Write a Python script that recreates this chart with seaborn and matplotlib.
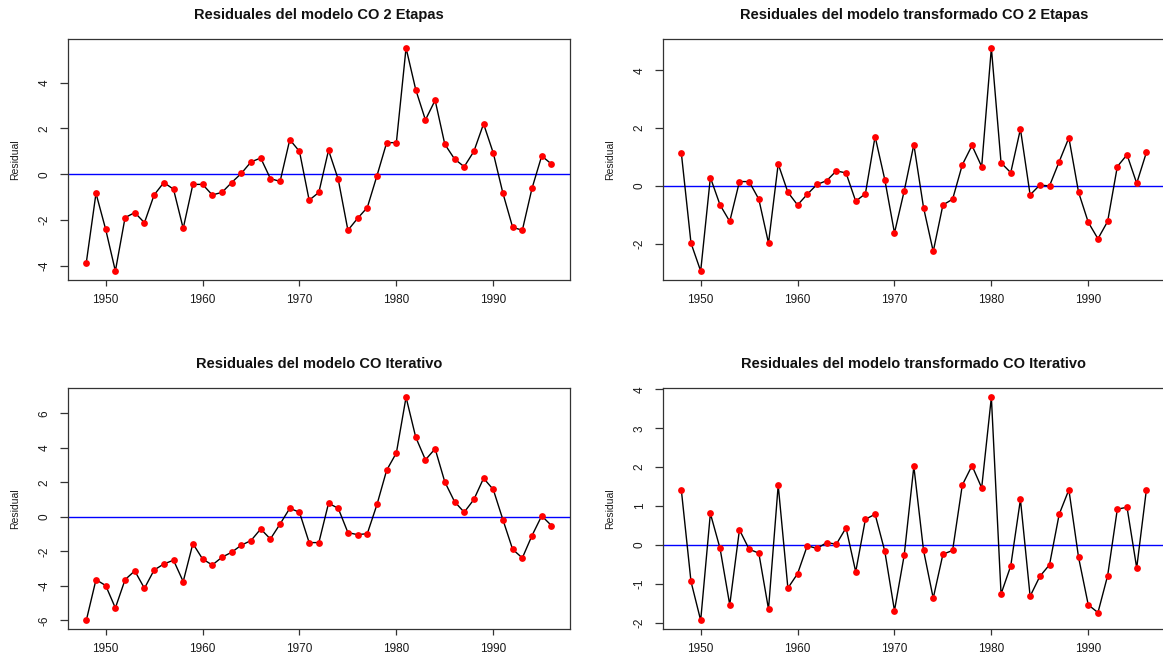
import numpy as np
import pandas as pd
import seaborn as sns
import matplotlib
matplotlib.use("Agg")
import matplotlib.pyplot as plt

years = list(range(1948, 1997))

res_co2 = [-3.85, -0.83, -2.40, -4.22, -1.89, -1.67, -2.11, -0.90, -0.36, -0.65,
           -2.36, -0.44, -0.44, -0.90, -0.79, -0.36, 0.04, 0.54, 0.71, -0.19,
           -0.31, 1.51, 1.00, -1.13, -0.79,
           1.05, -0.22, -2.44, -1.92, -1.45, -0.06, 1.38, 1.38, 5.51, 3.69,
           2.37, 3.23, 1.31, 0.67, 0.33, 1.00, 2.20, 0.93, -0.83, -2.31,
           -2.44, -0.61, 0.80, 0.45]

res_trans_co2 = [1.15, -1.98, -2.95, 0.29, -0.66, -1.23, 0.15, 0.15, -0.46, -1.98,
                 0.76, -0.22, -0.66, -0.29, 0.05, 0.18, 0.52, 0.45, -0.53, -0.27,
                 1.71, 0.22,
                 -1.63, -0.18, 1.43, -0.75, -2.27, -0.66, -0.46, 0.73, 1.40, 0.67,
                 4.78, 0.80, 0.46, 1.97, -0.31, 0.03, 0.00, 0.84, 1.67, -0.22,
                 -1.26, -1.83, -1.23, 0.67, 1.08, 0.09, 1.16]

res_iter = [-6.00, -3.64, -3.98, -5.28, -3.64, -3.13, -4.14, -3.08, -2.73, -2.51,
            -3.75, -1.55, -2.44, -2.79, -2.34, -2.05, -1.64, -1.37, -0.70, -1.28,
            -0.41, 0.50, 0.27, -1.49, -1.49,
            0.79, 0.50, -0.91, -1.03, -0.97, 0.72, 2.71, 3.71, 6.94, 4.62,
            3.31, 3.95, 2.03, 0.89, 0.27, 1.01, 2.24, 1.59, -0.17, -1.88,
            -2.38, -1.08, 0.06, -0.50]

res_trans_iter = [1.42, -0.94, -1.94, 0.81, -0.09, -1.54, 0.39, -0.11, -0.21, -1.65,
                  1.54, -1.11, -0.74, -0.02, -0.09, 0.06, 0.02, 0.44, -0.69, 0.66,
                  0.79, -0.16,
                  -1.69, -0.27, 2.02, -0.14, -1.37, -0.24, -0.14, 1.54, 2.04, 1.47,
                  3.80, -1.26, -0.54, 1.17, -1.32, -0.81, -0.51, 0.79, 1.42, -0.32,
                  -1.54, -1.74, -0.79, 0.92, 0.97, -0.59, 1.42]

titles = ["Residuales del modelo CO 2 Etapas",
          "Residuales del modelo transformado CO 2 Etapas",
          "Residuales del modelo CO Iterativo",
          "Residuales del modelo transformado CO Iterativo"]
yticks_list = [[-4, -2, 0, 2, 4],
               [-2, 0, 2, 4],
               [-6, -4, -2, 0, 2, 4, 6],
               [-2, -1, 0, 1, 2, 3, 4]]
xticks = [1950, 1960, 1970, 1980, 1990]
ylabel = "Residual"

sns.set_theme(style="ticks")
plt.rcParams['font.family'] = ['Liberation Sans', 'DejaVu Sans']

W, H = 1163, 658
fig = plt.figure(figsize=(W / 100, H / 100), dpi=100)

lefts = [67.7, 662.7]
tops = [39, 388.3]
aw, ah = 502.3, 241

series = [res_co2, res_trans_co2, res_iter, res_trans_iter]
frame_col = "#333333"

for i, vals in enumerate(series):
    r, c = divmod(i, 2)
    l = lefts[c]
    t = tops[r]
    ax = fig.add_axes([l / W, 1 - (t + ah) / H, aw / W, ah / H])
    df = pd.DataFrame({"year": years, "res": vals})
    ax.axhline(0, color="#0000ff", lw=1.0, zorder=1)
    sns.lineplot(data=df, x="year", y="res", color="black", lw=1.0, ax=ax, zorder=2)
    sns.scatterplot(data=df, x="year", y="res", color="#ff0000", s=24,
                    edgecolor="#ff0000", linewidth=0, ax=ax, zorder=3)
    xr = years[-1] - years[0]
    ax.set_xlim(years[0] - 0.04 * xr, years[-1] + 0.04 * xr)
    ymin, ymax = min(vals), max(vals)
    yr = ymax - ymin
    ax.set_ylim(ymin - 0.04 * yr, ymax + 0.04 * yr)
    ax.set_xticks(xticks)
    ax.set_yticks(yticks_list[i])
    ax.set_xticklabels([str(v) for v in xticks], fontsize=8.5)
    ax.set_yticklabels([str(v) for v in yticks_list[i]], fontsize=8.5,
                       rotation=90, va="center")
    ax.tick_params(axis="x", length=4.1, width=0.9, pad=6, colors=frame_col,
                   labelcolor="#1a1a1a")
    ax.tick_params(axis="y", length=5.8, width=0.9, pad=6.5, colors=frame_col,
                   labelcolor="#1a1a1a")
    for sp in ax.spines.values():
        sp.set_visible(True)
        sp.set_color(frame_col)
        sp.set_linewidth(0.9)
    ax.set_xlabel("")
    ax.set_ylabel("")
    ax.text(-52.7 / aw, 0.5, ylabel, rotation=90, va="center", ha="center",
            fontsize=7.5, color="#1a1a1a", transform=ax.transAxes)
    ax.text(0.5, 1 + 24 / ah, titles[i], ha="center", va="center",
            fontsize=10.5, fontweight="bold", color="#111111", transform=ax.transAxes)

fig.savefig("out.png", dpi=100, facecolor="white")
